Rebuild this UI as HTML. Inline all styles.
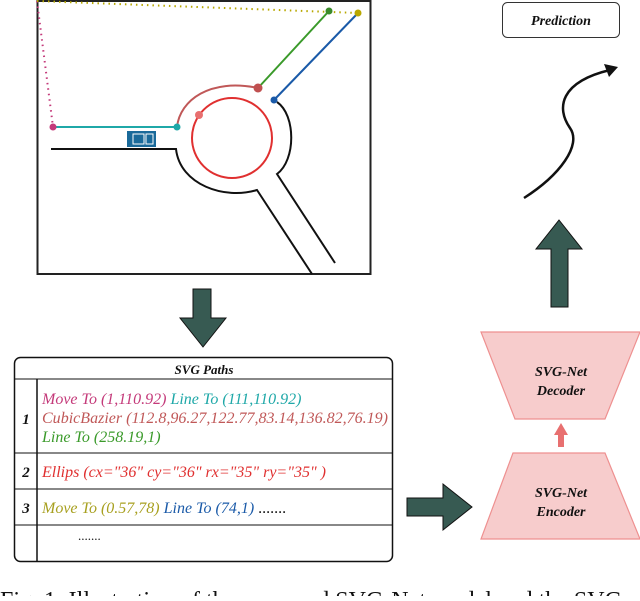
<!DOCTYPE html>
<html><head><style>
body{margin:0;width:640px;height:596px;overflow:hidden;background:#fff;}
svg text{font-family:"Liberation Serif",serif;font-style:italic;}
svg text.n{font-style:normal;}
</style></head><body>
<svg width="640" height="596" viewBox="0 0 640 596" xmlns="http://www.w3.org/2000/svg">
<!-- map -->
<rect x="37.5" y="1" width="333" height="273" fill="#fff" stroke="#222" stroke-width="2"/>
<polyline points="37,1 53,127" fill="none" stroke="#c43a7a" stroke-width="2" stroke-dasharray="1.5,4"/>
<polyline points="37,1 358,13" fill="none" stroke="#b8a800" stroke-width="2" stroke-dasharray="1.5,4"/>
<line x1="53" y1="127" x2="177" y2="127" stroke="#1fa8a8" stroke-width="2"/>
<path d="M177,127 C180,100 210,78 258,88" fill="none" stroke="#c05858" stroke-width="2"/>
<line x1="258" y1="88" x2="329" y2="11" stroke="#3a9a2a" stroke-width="2"/>
<line x1="274" y1="100" x2="358" y2="13" stroke="#1a5aa8" stroke-width="2"/>
<circle cx="232" cy="138" r="40" fill="none" stroke="#e03030" stroke-width="2"/>
<path d="M51,149 L176,149 C180,185 225,200 257,190 L312,274" fill="none" stroke="#111" stroke-width="2"/>
<path d="M277,102 C296,115 296,160 277,174 L335,263" fill="none" stroke="#111" stroke-width="2"/>
<circle cx="53" cy="127" r="3.5" fill="#c43a7a"/>
<circle cx="177" cy="127" r="3.5" fill="#1fa8a8"/>
<circle cx="258" cy="88" r="4.5" fill="#c05050"/>
<circle cx="199" cy="115" r="4" fill="#e87070"/>
<circle cx="329" cy="11" r="3.5" fill="#3a8a2a"/>
<circle cx="358" cy="13" r="3.5" fill="#b8a800"/>
<circle cx="274" cy="100" r="3.5" fill="#1a5aa8"/>
<rect x="127" y="131" width="29" height="16" fill="#1a6a9a"/>
<rect x="133" y="134" width="11" height="10" fill="none" stroke="#fff" stroke-width="1"/>
<rect x="146" y="134" width="7" height="10" fill="none" stroke="#fff" stroke-width="1"/>
<!-- down arrow -->
<polygon points="193,289 211,289 211,318 226,318 203,347 180,318 193,318" fill="#375a52" stroke="#111" stroke-width="1"/>
<!-- table -->
<rect x="14.5" y="357.5" width="378" height="204" rx="6" fill="#fff" stroke="#111" stroke-width="1.5"/>
<line x1="14" y1="379" x2="393" y2="379" stroke="#111" stroke-width="1"/>
<line x1="14" y1="453" x2="393" y2="453" stroke="#111" stroke-width="1"/>
<line x1="14" y1="489" x2="393" y2="489" stroke="#111" stroke-width="1"/>
<line x1="14" y1="525" x2="393" y2="525" stroke="#111" stroke-width="1"/>
<line x1="37" y1="379" x2="37" y2="562" stroke="#111" stroke-width="1.5"/>
<text x="204" y="374" font-size="13" font-weight="bold" text-anchor="middle" fill="#111">SVG Paths</text>
<text x="26" y="424" font-size="15" font-weight="bold" text-anchor="middle" fill="#111">1</text>
<text x="26" y="477" font-size="15" font-weight="bold" text-anchor="middle" fill="#111">2</text>
<text x="26" y="513" font-size="15" font-weight="bold" text-anchor="middle" fill="#111">3</text>
<text x="42" y="404" font-size="16" fill="#c43a7a">Move To (1,110.92)  <tspan fill="#1fa8a8">Line To (111,110.92)</tspan></text>
<text x="42" y="423" font-size="16" fill="#c05858" textLength="346">CubicBazier (112.8,96.27,122.77,83.14,136.82,76.19)</text>
<text x="42" y="442" font-size="16" fill="#3a9a2a">Line To (258.19,1)</text>
<text x="42" y="477" font-size="16" fill="#e03030">Ellips (cx="36" cy="36" rx="35" ry="35" )</text>
<text x="42" y="513" font-size="16" fill="#a8a020">Move To (0.57,78)  <tspan fill="#1a5aa8">Line To (74,1)</tspan><tspan fill="#111" style="font-style:normal"> .......</tspan></text>
<text class="n" x="78" y="540" font-size="13" fill="#111">.......</text>
<!-- caption -->
<text class="n" x="0" y="608" font-size="24" fill="#111">Fig. 1: Illustration of the proposed SVG-Net model and the SVG</text>
<!-- right arrow -->
<polygon points="407,498 443,498 443,484 472,507 443,530 443,516 407,516" fill="#375a52" stroke="#111" stroke-width="1"/>
<!-- encoder -->
<polygon points="513,453 605,453 640,539 481,539" fill="#f7cccc" stroke="#ee9090" stroke-width="1.2"/>
<text font-size="14" font-weight="bold" text-anchor="middle" fill="#111"><tspan x="561" y="497">SVG-Net</tspan><tspan x="561" y="516">Encoder</tspan></text>
<!-- small arrow -->
<polygon points="558,447 564,447 564,435 568,435 561,423 554,435 558,435" fill="#e87070"/>
<!-- decoder -->
<polygon points="481,332 640,332 605,419 515,419" fill="#f7cccc" stroke="#ee9090" stroke-width="1.2"/>
<text font-size="14" font-weight="bold" text-anchor="middle" fill="#111"><tspan x="561" y="376">SVG-Net</tspan><tspan x="561" y="395">Decoder</tspan></text>
<!-- up arrow -->
<polygon points="551,307 568,307 568,249 582,249 559,220 536,249 551,249" fill="#375a52" stroke="#111" stroke-width="1"/>
<!-- curve -->
<path d="M524,198 C560,175 582,145 570,128 C556,108 560,82 610,70" fill="none" stroke="#111" stroke-width="2.5"/>
<polygon points="618,67 604,64 609,77" fill="#111"/>
<!-- prediction box -->
<rect x="502.5" y="2.5" width="117" height="35" rx="5" fill="#fff" stroke="#333" stroke-width="1"/>
<text x="561" y="25" font-size="14" font-weight="bold" text-anchor="middle" fill="#111">Prediction</text>
</svg>
</body></html>
